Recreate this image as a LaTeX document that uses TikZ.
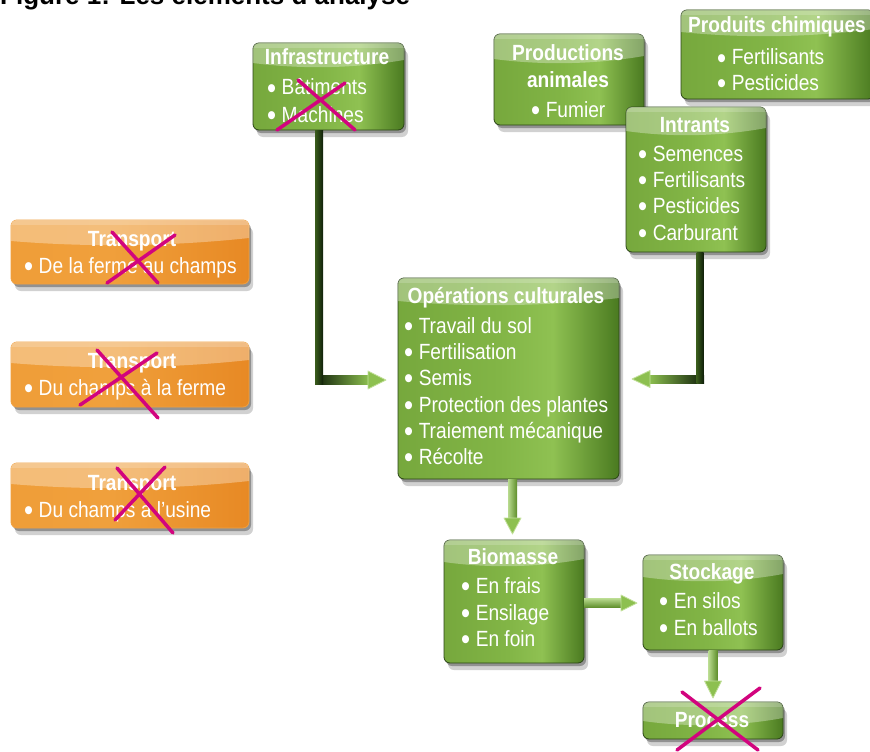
\documentclass[tikz,border=0pt]{standalone}
\usepackage{fontspec}
\newfontfamily\lab[FakeStretch=0.87]{Liberation Sans}
\newfontfamily\headfont{Liberation Sans}
\usetikzlibrary{calc,shadows}
\definecolor{g0}{HTML}{6A9A33}
\definecolor{g1}{HTML}{82B546}
\definecolor{g2}{HTML}{8FC152}
\definecolor{g3}{HTML}{4A7A20}
\definecolor{g4}{HTML}{223E0E}
\definecolor{g5}{HTML}{0F1E07}
\definecolor{gborder}{HTML}{2A4416}
\definecolor{o0}{HTML}{EE9A34}
\definecolor{o1}{HTML}{F0A03C}
\definecolor{o2}{HTML}{E07610}
\definecolor{oborder}{HTML}{F0A040}
\definecolor{xred}{HTML}{D2047E}
\definecolor{dk1}{HTML}{3A5C1C}
\definecolor{dk2}{HTML}{10200A}
\definecolor{lg}{HTML}{8DC050}
\definecolor{lgl}{HTML}{C2E09A}
\definecolor{al1}{HTML}{B8DA8E}
\definecolor{al2}{HTML}{85B548}
\definecolor{al3}{HTML}{5E8E2A}
\pgfdeclarehorizontalshading{gshade}{100bp}{color(0bp)=(g0); color(48bp)=(g1); color(60bp)=(g2); color(75bp)=(g3); color(89bp)=(g4); color(100bp)=(g5)}
\pgfdeclarehorizontalshading{oshade}{100bp}{color(0bp)=(o0); color(45bp)=(o1); color(100bp)=(o2)}
\newcommand\bul{\smash{\raisebox{-0.16em}{\scalebox{1.35}{•}}}\hspace{0.25em}}
\tikzset{
  basebox/.style={line width=0.8pt, rounded corners=6pt, inner sep=0pt, outer sep=0pt,
    drop shadow={shadow xshift=2pt, shadow yshift=-3pt, opacity=.3, fill=black},
    drop shadow={shadow xshift=4pt, shadow yshift=-7pt, opacity=.18, fill=black}},
  gbox/.style={basebox, draw=gborder, shade, shading=gshade},
  obox/.style={basebox, draw=oborder, shade, shading=oshade},
  ttl/.style={font=\lab\bfseries\fontsize{22}{26}\selectfont, text=white, anchor=base, inner sep=0pt},
  itm/.style={font=\lab\fontsize{22}{26}\selectfont, text=white, anchor=base west, inner sep=0pt},
  xmark/.style={draw=xred, line width=3.5pt, line cap=round},
  gloss/.style={fill=white, fill opacity=.32},
  headg/.style={fill=lg, draw=lgl, line width=0.8pt, line join=round},
}
% #1 name, #2 style, #3 x1, #4 y1, #5 x2, #6 y2, #7 gloss height
\newcommand\mybox[7]{%
  \node[#2, minimum width={#5-#3}, minimum height={#6-#4}] (#1) at ({(#3+#5)/2},{(#4+#6)/2}) {};
  \begin{scope}
    \clip[rounded corners=6pt] (#3,#4) rectangle (#5,#6);
    \fill[gloss] (#3,#4) -- (#5,#4) -- (#5,{#4+#7-6}) .. controls ({#5-(#5-#3)*0.35},{#4+#7+3}) and ({#3+(#5-#3)*0.3},{#4+#7+3}) .. (#3,{#4+#7-3}) -- cycle;
    \fill[white, fill opacity=.18] (#3,#4) rectangle (#5,{#4+5});
  \end{scope}
}
\begin{document}
\begin{tikzpicture}[x=1pt,y=-1pt]
\useasboundingbox (0,0) rectangle (870,752);
\clip (0,0) rectangle (870,752);
\fill[white] (0,0) rectangle (870,752);

% title
\node[anchor=base west, inner sep=0pt, font=\headfont\bfseries\fontsize{26}{30}\selectfont] (fig) at (0,4.5) {Figure 1: Les éléments d’analyse};

% boxes
\mybox{infra}{gbox}{253}{43}{404}{130}{23}
\mybox{chim}{gbox}{681}{10}{874}{99}{25}
\mybox{prod}{gbox}{494}{34}{644}{125}{28}
\mybox{intr}{gbox}{626}{107}{766}{252}{27}
\mybox{tr1}{obox}{11}{220}{249}{284}{24}
\mybox{tr2}{obox}{11}{342}{249}{407}{24}
\mybox{tr3}{obox}{11}{463}{249}{528}{24}
\mybox{ops}{gbox}{398}{278}{619}{479}{26}
\mybox{bio}{gbox}{444}{540}{584}{663}{25}
\mybox{stock}{gbox}{643}{555}{783}{650}{25}
\mybox{proc}{gbox}{643}{702}{783}{739}{22}

% texts
\node[ttl] (infrat) at (327,65) {Infrastructure};
\node[itm] (infra1) at (267,95) {\bul Bâtiments};
\node[itm] (infra2) at (267,122) {\bul Machines};

\node[ttl] (chimt) at (777,33) {Produits chimiques};
\node[itm] (chim1) at (717,65) {\bul Fertilisants};
\node[itm] (chim2) at (717,90) {\bul Pesticides};

\node[ttl] (prodt1) at (568,60) {Productions};
\node[ttl] (prodt2) at (568,87) {animales};
\node[itm] (prod1) at (531,117) {\bul Fumier};

\node[ttl] (intrt) at (695,132) {Intrants};
\node[itm] (intr1) at (638,161) {\bul Semences};
\node[itm] (intr2) at (638,187) {\bul Fertilisants};
\node[itm] (intr3) at (638,213) {\bul Pesticides};
\node[itm] (intr4) at (638,240) {\bul Carburant};

\node[ttl] (tr1t) at (132,246) {Transport};
\node[itm] (tr1a) at (24,273) {\bul De la ferme au champs};
\node[ttl] (tr2t) at (132,368) {Transport};
\node[itm] (tr2a) at (24,395) {\bul Du champs à la ferme};
\node[ttl] (tr3t) at (132,490) {Transport};
\node[itm] (tr3a) at (24,517) {\bul Du champs à l’usine};

\node[ttl] (opst) at (506,303) {Opérations culturales};
\node[itm] (ops1) at (404,333) {\bul Travail du sol};
\node[itm] (ops2) at (404,359) {\bul Fertilisation};
\node[itm] (ops3) at (404,385) {\bul Semis};
\node[itm] (ops4) at (404,412) {\bul Protection des plantes};
\node[itm] (ops5) at (404,438) {\bul Traiement mécanique};
\node[itm] (ops6) at (404,464) {\bul Récolte};

\node[ttl] (biot) at (513,564) {Biomasse};
\node[itm] (bio1) at (461,593) {\bul En frais};
\node[itm] (bio2) at (461,620) {\bul Ensilage};
\node[itm] (bio3) at (461,646) {\bul En foin};

\node[ttl] (stockt) at (712,579) {Stockage};
\node[itm] (stock1) at (659,608) {\bul En silos};
\node[itm] (stock2) at (659,635) {\bul En ballots};

\node[ttl] (proct) at (712,727) {Process};

% connector infrastructure -> operations
\coordinate (a1) at ($(infra.south)+(-9.5,0)$);
\coordinate (a2) at ($(ops.west)+(-12,1.5)$);
\shade[left color=dk2, right color=lg] ($(a1|-a2)+(-4,-4.5)$) rectangle ($(a2)+(-17,4.5)$);
\shade[left color=dk1, right color=dk2] ($(a1)+(-4,0)$) rectangle ($(a1|-a2)+(4,4.5)$);
\filldraw[headg] ($(a2)+(-18,-9)$) -- (a2) -- ($(a2)+(-18,9)$) -- cycle;

% connector intrants -> operations
\coordinate (b1) at ($(intr.south)+(4,0)$);
\coordinate (b2) at ($(ops.east)+(13,0.5)$);
\shade[left color=lg, right color=dk2] ($(b2)+(17,-4)$) rectangle ($(b1|-b2)+(4,4)$);
\shade[left color=dk1, right color=dk2] ($(b1)+(-3.5,0)$) rectangle ($(b1|-b2)+(3.5,4)$);
\filldraw[headg] ($(b2)+(18,-8.5)$) -- (b2) -- ($(b2)+(18,8.5)$) -- cycle;

% operations -> biomasse
\coordinate (c1) at ($(ops.south)+(4,0)$);
\coordinate (c2) at ($(c1|-bio.north)+(0,-6)$);
\shade[left color=al1, middle color=al2, right color=al3] ($(c1)+(-4.5,0)$) rectangle ($(c2)+(4.5,-16)$);
\filldraw[headg] ($(c2)+(-8.5,-16)$) -- (c2) -- ($(c2)+(8.5,-16)$) -- cycle;

% biomasse -> stockage
\coordinate (d1) at ($(bio.east)+(0,1.5)$);
\coordinate (d2) at ($(d1-|stock.west)+(-6,0)$);
\shade[top color=al1, middle color=al2, bottom color=al3] ($(d1)+(0,-4.5)$) rectangle ($(d2)+(-16,4.5)$);
\filldraw[headg] ($(d2)+(-16,-8)$) -- (d2) -- ($(d2)+(-16,8)$) -- cycle;

% stockage -> process
\coordinate (e1) at ($(stock.south)+(0,0)$);
\coordinate (e2) at ($(proc.north)+(0,-4)$);
\shade[left color=al1, middle color=al2, right color=al3] ($(e1)+(-4.5,0)$) rectangle ($(e2)+(4.5,-17)$);
\filldraw[headg] ($(e2)+(-8.5,-17)$) -- (e2) -- ($(e2)+(8.5,-17)$) -- cycle;

% crosses
\draw[xmark] (298,80) -- (355,130);
\draw[xmark] (277,130) -- (345,83);
\draw[xmark] (112,232) -- (158,283);
\draw[xmark] (107,283) -- (175,235);
\draw[xmark] (97,350) -- (158,418);
\draw[xmark] (80,405) -- (157,353);
\draw[xmark] (117,468) -- (173,533);
\draw[xmark] (115,520) -- (165,467);
\draw[xmark] (682,692) -- (758,750);
\draw[xmark] (760,688) -- (677,750);
\end{tikzpicture}
\end{document}
